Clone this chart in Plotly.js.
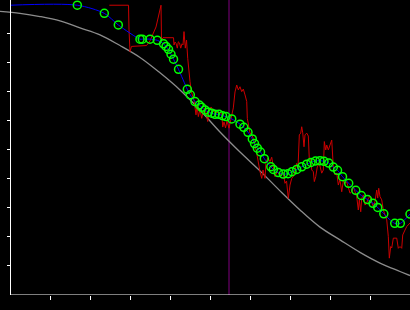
<!DOCTYPE html>
<html>
<head>
<meta charset="utf-8">
<script src="https://cdn.plot.ly/plotly-3.0.1.min.js"></script>
<style>html,body{margin:0;padding:0;background:#000;}#chart{width:410px;height:310px;}</style>
</head>
<body>
<div id="chart"></div>
<script>
// Reference curve (gray)
const refX = [-0.25,0.25,0.75,1.25,1.75,2.25,2.75,3.25,3.75,4.25,4.75,5.25,5.75,6.25,6.75,7.25,7.75,8.25,8.75,9.25,9.75,10.0];
const refY = [9.78,9.71,9.60,9.45,9.21,8.97,8.60,8.19,7.66,7.07,6.38,5.62,4.93,4.28,3.59,2.93,2.34,1.90,1.47,1.10,0.81,0.67];

// Raw noisy series (red)
const rawX = [2.483,2.963,2.975,3.0,3.038,3.413,3.5,3.65,3.775,3.788,3.825,4.088,4.1,4.125,4.15,4.183,4.208,4.238,4.268,4.3,4.325,4.35,4.383,4.413,4.443,4.468,4.5,4.533,4.568,4.6,4.65,4.675,4.708,4.75,4.793,4.825,4.875,4.943,4.975,5.025,5.1,5.2,5.293,5.318,5.35,5.388,5.425,5.475,5.525,5.583,5.625,5.668,5.708,5.75,5.793,5.833,5.875,5.918,5.933,5.958,6.0,6.05,6.1,6.168,6.208,6.25,6.293,6.325,6.375,6.4,6.45,6.5,6.543,6.583,6.625,6.675,6.75,6.825,6.875,6.913,6.958,7.0,7.043,7.088,7.125,7.168,7.2,7.233,7.268,7.293,7.318,7.35,7.375,7.418,7.458,7.483,7.513,7.543,7.583,7.608,7.643,7.683,7.733,7.793,7.833,7.858,7.893,7.918,7.958,8.0,8.043,8.083,8.125,8.168,8.208,8.25,8.293,8.333,8.375,8.418,8.458,8.5,8.543,8.583,8.625,8.668,8.708,8.733,8.768,8.793,8.833,8.875,8.918,8.958,9.0,9.043,9.083,9.125,9.168,9.193,9.218,9.25,9.293,9.333,9.418,9.458,9.483,9.518,9.543,9.583,9.668,9.708,9.75,9.793,9.818,9.875,9.918,10.0];
const rawY = [9.99,9.99,9.14,8.39,8.57,8.60,8.76,9.24,9.99,8.79,8.87,8.87,8.62,8.72,8.68,8.51,8.73,8.69,8.51,8.66,8.62,9.08,8.51,8.79,8.16,7.70,7.36,7.01,6.84,6.72,6.21,6.55,6.15,6.38,6.09,6.31,6.45,5.98,6.31,6.48,6.31,6.28,6.27,5.79,5.97,5.76,6.00,5.75,6.03,6.45,7.00,7.24,7.07,7.18,7.01,7.10,6.90,6.67,6.09,5.83,5.58,5.52,5.31,4.89,4.54,4.25,4.02,4.31,4.02,4.59,4.72,4.60,4.75,4.48,4.08,4.24,4.14,4.24,3.85,3.93,3.33,3.79,4.02,4.10,4.31,4.54,4.38,5.52,5.58,5.80,5.59,5.11,5.52,5.58,5.48,4.66,4.72,4.31,4.25,3.91,4.08,4.42,4.54,4.20,4.31,5.29,5.00,5.17,5.00,5.17,5.34,4.42,4.14,4.21,3.79,3.97,3.56,3.93,3.86,3.90,3.73,3.51,3.56,3.73,3.56,3.39,2.93,3.28,2.87,3.33,3.45,3.10,3.17,3.34,3.39,3.17,3.04,3.22,3.62,3.34,3.68,3.39,3.28,2.93,2.59,2.01,1.27,1.67,1.62,1.96,1.96,1.61,1.67,1.61,2.07,2.24,2.36,2.48];

// Smoothed series (blue line, green markers)
const fitX = [1.683,2.358,2.708,3.25,3.308,3.5,3.683,3.838,3.9,3.963,4.025,4.088,4.213,4.433,4.508,4.625,4.733,4.793,4.875,4.958,5.043,5.125,5.225,5.313,5.4,5.543,5.75,5.845,5.95,6.058,6.113,6.183,6.263,6.358,6.52,6.583,6.708,6.833,6.95,7.05,7.168,7.293,7.418,7.525,7.638,7.75,7.85,7.968,8.083,8.188,8.313,8.468,8.645,8.783,8.938,9.075,9.193,9.345,9.618,9.758,10.0];
const fitY = [9.99,9.71,9.31,8.82,8.82,8.82,8.78,8.66,8.57,8.47,8.30,8.13,7.78,7.09,6.90,6.67,6.55,6.47,6.38,6.30,6.27,6.23,6.23,6.18,6.15,6.07,5.89,5.78,5.61,5.38,5.22,5.06,4.93,4.70,4.42,4.33,4.22,4.17,4.18,4.25,4.33,4.42,4.51,4.57,4.62,4.63,4.61,4.55,4.41,4.30,4.08,3.85,3.61,3.43,3.29,3.16,3.02,2.80,2.47,2.47,2.79];
const fitStart = [0, 9.99];

// Vertical marker position and tick values
const cursorX = [5.475];
const xTicks = [1,2,3,4,5,6,7,8,9];
const yTicks = [1,2,3,4,5,6,7,8,9];

const traces = [
  {x: refX, y: refY, mode: 'lines', line: {color: '#8c8c8c', width: 1.3, shape: 'spline'}, hoverinfo: 'skip'},
  {x: rawX, y: rawY, mode: 'lines', line: {color: '#cc0000', width: 1}, hoverinfo: 'skip'},
  {x: [fitStart[0]].concat(fitX), y: [fitStart[1]].concat(fitY), mode: 'lines', line: {color: '#0000ff', width: 1, shape: 'spline', smoothing: 0.8}, hoverinfo: 'skip'},
  {x: fitX, y: fitY, mode: 'markers', marker: {symbol: 'circle-open', size: 8, color: '#00ff00', line: {color: '#00ff00', width: 1.5}}, hoverinfo: 'skip'}
];

const layout = {
  width: 410, height: 310,
  margin: {l: 0, r: 0, t: 0, b: 15, pad: 0},
  paper_bgcolor: '#000', plot_bgcolor: '#000',
  showlegend: false,
  xaxis: {range: [-0.25, 10], showgrid: false, zeroline: false, showline: false,
          ticks: 'outside', tickvals: xTicks, ticklen: 4, tickwidth: 1, tickcolor: '#fff',
          showticklabels: false, fixedrange: true},
  yaxis: {range: [0, 10.17], anchor: 'free', position: 10/410, showgrid: false, zeroline: false,
          showline: true, linecolor: '#fff', linewidth: 1,
          ticks: 'outside', tickvals: yTicks, ticklen: 3, tickwidth: 1, tickcolor: '#fff',
          showticklabels: false, fixedrange: true},
  shapes: [
    {type: 'line', xref: 'x', yref: 'paper', x0: cursorX[0], x1: cursorX[0], y0: 0, y1: 1,
     line: {color: '#800080', width: 1}, layer: 'below'},
    {type: 'line', xref: 'x', yref: 'y', x0: 0, x1: 10, y0: 0, y1: 0,
     line: {color: '#fff', width: 1}, layer: 'above'}
  ]
};

Plotly.newPlot('chart', traces, layout, {staticPlot: true, displayModeBar: false});
</script>
</body>
</html>
